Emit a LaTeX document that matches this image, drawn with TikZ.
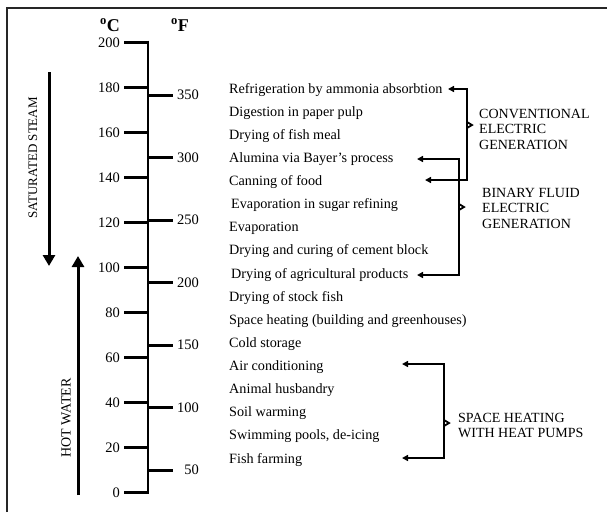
\documentclass[tikz,border=0pt]{standalone}
\usepackage{fontspec}
\setmainfont{Liberation Serif}
\usetikzlibrary{positioning,arrows.meta}
\tikzset{
  frame/.style={line width=1.2pt, black!85},
  axis/.style={line width=2.6pt},
  tick/.style={line width=3pt},
  num/.style={inner sep=0pt, text height=9pt, text depth=0pt, font=\fontsize{14.5}{16}\selectfont},
  head/.style={inner sep=0pt, font=\bfseries\fontsize{18}{18}\selectfont},
  app/.style={anchor=west, inner sep=0pt, text height=8pt, text depth=0pt, font=\fontsize{14.2}{16}\selectfont},
  side/.style={inner sep=0pt, font=\fontsize{13}{15}\selectfont},
  group/.style={anchor=west, align=left, inner sep=0pt, font=\fontsize{14}{15.5}\selectfont},
  flow/.style={line width=3pt, -{Triangle[length=11pt,width=12pt]}},
  bracket/.style={line width=2pt, {Triangle[length=6pt,width=6pt]}-{Triangle[length=6pt,width=6pt]}},
  spike/.style={line width=1.8pt}
}
\begin{document}
\begin{tikzpicture}[x=1pt,y=-1pt]
  \useasboundingbox (0,0) rectangle (607,512);
  \draw[frame] (7,512) -- (7,8) -- (607,8);

  % temperature scale
  \node[head] (degC) at (110,25) {\textsuperscript{o}C};
  \node[head] (degF) at (180,25) {\textsuperscript{o}F};
  \draw[axis] (148,40.5) -- (148,494);
  \foreach \c in {0,20,...,200}{
    \draw[tick] (124,{492.5-2.25*\c}) -- (148,{492.5-2.25*\c});
    \node[num, anchor=east] (c\c) at (120,{492.5-2.25*\c}) {\c};
  }
  \foreach \f in {50,100,...,350}{
    \draw[tick] (148,{492.5-1.25*(\f-32)}) -- (173,{492.5-1.25*(\f-32)});
    \node[num, anchor=east] (f\f) at (199,{492.5-1.25*(\f-32)}) {\f};
  }

  % steam and water
  \coordinate (steamTop) at (49,72);
  \coordinate (steamEnd) at (49,266);
  \draw[flow] (steamTop) -- (steamEnd);
  \node[side, rotate=90] (steam) at (33,158) {SATURATED STEAM};
  \coordinate (waterTop) at (78,256);
  \coordinate (waterEnd) at (78,495);
  \draw[flow] (waterEnd) -- (waterTop);
  \node[side, rotate=90, font=\fontsize{14}{15}\selectfont] (water) at (66,418) {HOT WATER};

  % applications
  \node[app] (app1) at (229,89) {Refrigeration by ammonia absorbtion};
  \node[app] (app2) at (229,112.1) {Digestion in paper pulp};
  \node[app] (app3) at (229,135.3) {Drying of fish meal};
  \node[app] (app4) at (229,158.4) {Alumina via Bayer’s process};
  \node[app] (app5) at (229,181.5) {Canning of food};
  \node[app] (app6) at (231,204.6) {Evaporation in sugar refining};
  \node[app] (app7) at (229,227.8) {Evaporation};
  \node[app] (app8) at (229,250.9) {Drying and curing of cement block};
  \node[app] (app9) at (231,274) {Drying of agricultural products};
  \node[app] (app10) at (229,297.1) {Drying of stock fish};
  \node[app] (app11) at (229,320.3) {Space heating (building and greenhouses)};
  \node[app] (app12) at (229,343.4) {Cold storage};
  \node[app] (app13) at (229,366.5) {Air conditioning};
  \node[app] (app14) at (229,389.6) {Animal husbandry};
  \node[app] (app15) at (229,412.8) {Soil warming};
  \node[app] (app16) at (229,435.9) {Swimming pools, de-icing};
  \node[app] (app17) at (229,459) {Fish farming};

  % conventional electric generation
  \coordinate (convA) at (448,89);
  \coordinate (convB) at (425,180);
  \coordinate (convX) at (467,180);
  \coordinate (convMid) at (467,125);
  \draw[bracket] (convA) -| (convX) -- (convB);
  \draw[spike] (convMid) ++(0,-3) -- ++(5,3) -- ++(-5,3);
  \node[group, right=12pt of convMid, yshift=-4pt] (conv) {CONVENTIONAL\\ELECTRIC\\GENERATION};

  % binary fluid electric generation
  \coordinate (binA) at (417,159);
  \coordinate (binB) at (417,275);
  \coordinate (binX) at (459,275);
  \coordinate (binMid) at (459,207);
  \draw[bracket] (binA) -| (binX) -- (binB);
  \draw[spike] (binMid) ++(0,-3) -- ++(5,3) -- ++(-5,3);
  \node[group, right=23pt of binMid, yshift=-1pt] (binary) {BINARY FLUID\\ELECTRIC\\GENERATION};

  % space heating with heat pumps
  \coordinate (pumpA) at (402,364);
  \coordinate (pumpB) at (402,458);
  \coordinate (pumpX) at (444,458);
  \coordinate (pumpMid) at (444,423);
  \draw[bracket] (pumpA) -| (pumpX) -- (pumpB);
  \draw[spike] (pumpMid) ++(0,-3) -- ++(5,3) -- ++(-5,3);
  \node[group, right=14pt of pumpMid, yshift=-2.5pt] (pumps) {SPACE HEATING\\WITH HEAT PUMPS};
\end{tikzpicture}
\end{document}
